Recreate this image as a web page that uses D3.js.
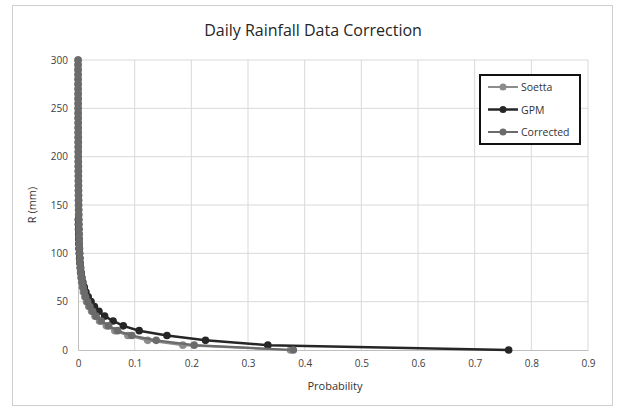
<!DOCTYPE html>
<meta charset="utf-8">
<html>
<script src="https://d3js.org/d3.v7.min.js"></script>
<style>
  body { margin: 0; background: #fff; }
  svg text { font-family: "Open Sans", "Liberation Sans", sans-serif; }
</style>
<body>
<div id="chart"></div>
<script>

// rainfall depth (mm), step 5
const rain = [0,5,10,15,20,25,30,35,40,45,50,55,60,65,70,75,80,85,90,95,
  100,105,110,115,120,125,130,135,140,145,150,155,160,165,170,175,180,185,190,195,
  200,205,210,215,220,225,230,235,240,245,250,255,260,265,270,275,280,285,290,295,300];

// exceedance probability per series
const soetta = [0.375,0.185,0.123,0.088,0.065,0.05,0.038,0.03,0.024,0.019,0.015,0.012,0.0095,0.0078,0.0064,0.0053,0.0045,0.0038,0.0033,0.0029,
  0.0025,0.0022,0.002,0.0018,0.0016,0.0014,0.0013,0.0012,0.0011,0.001,0.0009,0.00085,0.0008,0.00075,0.0007,0.00065,0.0006,0.00055,0.0005,0.00048,
  0.00045,0.00042,0.0004,0.00038,0.00036,0.00034,0.00032,0.0003,0.00028,0.00026,0.00024,0.00022,0.0002,0.00019,0.00018,0.00017,0.00016,0.00015,0.00014,0.00013,0.00012];
const gpm = [0.76,0.335,0.225,0.157,0.108,0.08,0.062,0.047,0.037,0.029,0.023,0.018,0.014,0.011,0.0085,0.0068,0.0055,0.0045,0.0037,0.003,
  0.0025,0.002,0.0017,0.0014,0.0012,0.001,0.0008,0.0006];
const corrected = [0.38,0.205,0.138,0.095,0.07,0.054,0.041,0.032,0.026,0.021,0.017,0.0135,0.011,0.009,0.0074,0.0062,0.0052,0.0044,0.0038,0.0033,
  0.0029,0.0026,0.0023,0.0021,0.0019,0.0017,0.0015,0.0014,0.0013,0.0012,0.0011,0.001,0.00095,0.0009,0.00085,0.0008,0.00075,0.0007,0.00065,0.0006,
  0.00057,0.00054,0.00051,0.00048,0.00045,0.00042,0.0004,0.00038,0.00036,0.00034,0.00032,0.0003,0.00028,0.00026,0.00024,0.00022,0.0002,0.00018,0.00016,0.00015,0.00014];

const seriesNames = ["Soetta", "GPM", "Corrected"];
const seriesColors = ["#8c8c8c", "#262626", "#6b6b6b"];
const xTicks = [0,0.1,0.2,0.3,0.4,0.5,0.6,0.7,0.8,0.9];
const yTicks = [0,50,100,150,200,250,300];

const W = 618, H = 415;
const margin = {top: 60, right: 30, bottom: 65, left: 78};
const width = 588 - margin.left, height = 350 - margin.top;

const svg = d3.select("#chart").append("svg")
  .attr("width", W).attr("height", H);

// outer frame
svg.append("rect")
  .attr("x", 12.5).attr("y", 5.5).attr("width", 600).attr("height", 400)
  .attr("fill", "#fff").attr("stroke", "#cfcfcf");

svg.append("text")
  .attr("x", 313).attr("y", 36)
  .attr("text-anchor", "middle")
  .attr("font-size", 16).attr("fill", "#262626")
  .text("Daily Rainfall Data Correction");

const g = svg.append("g").attr("transform", `translate(${margin.left},${margin.top})`);

const x = d3.scaleLinear().domain([0, 0.9]).range([0, width]);
const y = d3.scaleLinear().domain([0, 300]).range([height, 0]);

// grid
g.append("g").selectAll("line").data(xTicks.slice(1)).join("line")
  .attr("x1", d => x(d)).attr("x2", d => x(d)).attr("y1", 0).attr("y2", height)
  .attr("stroke", "#d9d9d9");
g.append("g").selectAll("line").data(yTicks.slice(1)).join("line")
  .attr("x1", 0).attr("x2", width).attr("y1", d => y(d)).attr("y2", d => y(d))
  .attr("stroke", "#d9d9d9");

// axes
const xAxis = g.append("g").attr("transform", `translate(0,${height})`)
  .call(d3.axisBottom(x).tickValues(xTicks).tickFormat(d => d3.format("")(+d.toFixed(1))).tickSize(0).tickPadding(10));
const yAxis = g.append("g")
  .call(d3.axisLeft(y).tickValues(yTicks).tickSize(0).tickPadding(10));
[xAxis, yAxis].forEach(a => {
  a.select(".domain").attr("stroke", "#bfbfbf");
  a.selectAll("text").attr("font-size", 10).attr("fill", "#404040")
    .attr("font-family", "'Open Sans', sans-serif");
});

svg.append("text")
  .attr("transform", "translate(36,205) rotate(-90)")
  .attr("text-anchor", "middle").attr("font-size", 11).attr("fill", "#333")
  .text("R (mm)");
svg.append("text")
  .attr("x", 335).attr("y", 390)
  .attr("text-anchor", "middle").attr("font-size", 11).attr("fill", "#333")
  .text("Probability");

// series
const allSeries = [soetta, gpm, corrected];
const line = d3.line().x(d => x(d[0])).y(d => y(d[1]));
allSeries.forEach((vals, i) => {
  const pts = vals.map((p, k) => [p, rain[k]]);
  const s = g.append("g");
  s.append("path").datum(pts)
    .attr("fill", "none").attr("stroke", seriesColors[i]).attr("stroke-width", i == 1 ? 2.5 : 2.2)
    .attr("d", line);
  s.selectAll("circle").data(pts).join("circle")
    .attr("cx", d => x(d[0])).attr("cy", d => y(d[1])).attr("r", 3.8)
    .attr("fill", seriesColors[i]);
});

// legend
const leg = svg.append("g").attr("transform", "translate(480,75)");
leg.append("rect").attr("width", 100).attr("height", 69)
  .attr("fill", "#fff").attr("stroke", "#111").attr("stroke-width", 2);
seriesNames.forEach((n, i) => {
  const yy = 12 + i * 22.5;
  leg.append("line").attr("x1", 8).attr("x2", 38).attr("y1", yy).attr("y2", yy)
    .attr("stroke", seriesColors[i]).attr("stroke-width", i == 1 ? 2.5 : 2);
  leg.append("circle").attr("cx", 23).attr("cy", yy).attr("r", 3.5).attr("fill", seriesColors[i]);
  leg.append("text").attr("x", 41).attr("y", yy + 4)
    .attr("font-size", 10.5).attr("fill", "#333").text(n);
});

</script>
</body>
</html>
